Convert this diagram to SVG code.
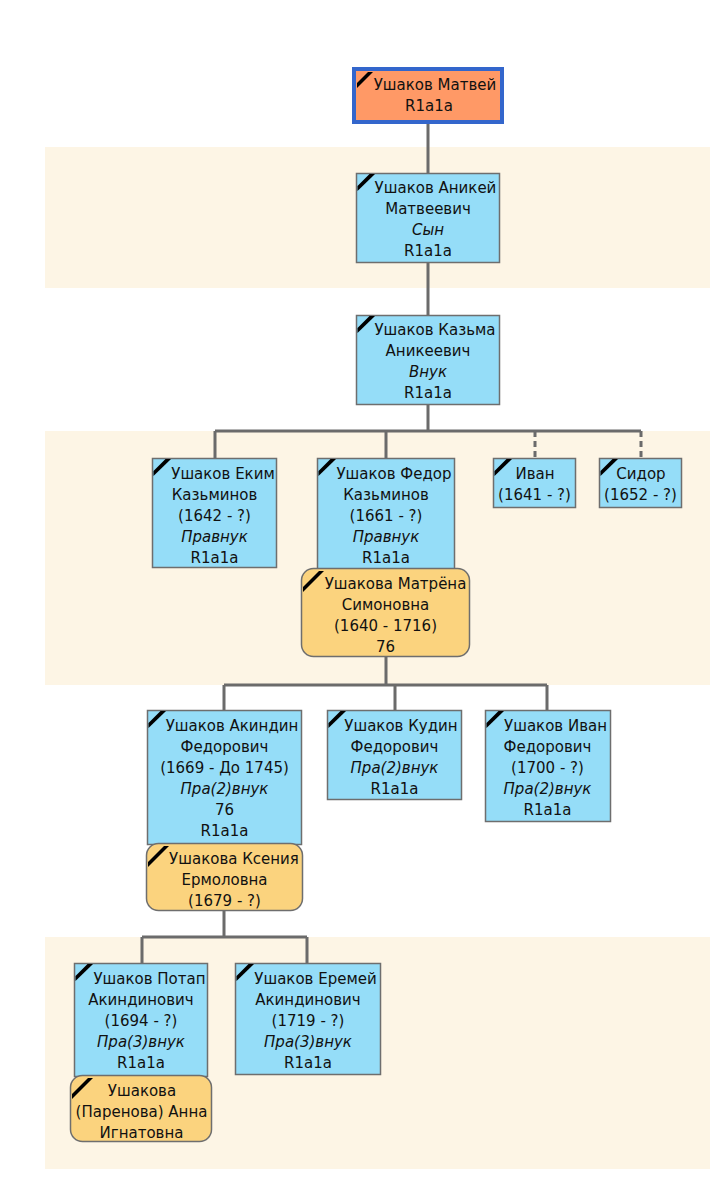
<svg xmlns="http://www.w3.org/2000/svg" width="725" height="1200" viewBox="0 0 725 1200">
<style>
.band{fill:#FDF5E5}
.m{fill:#95DDF8;stroke:#6E6E6E;stroke-width:1.5}
.f{fill:#FBD37E;stroke:#6E6E6E;stroke-width:1.5}
.root{fill:#FF9966;stroke:#3366CC;stroke-width:4}
.mk{fill:#000}
text{font-family:"DejaVu Sans","Noto Sans",sans-serif;font-size:15px;fill:#111;text-anchor:middle}
.i{font-style:italic}
.c{fill:none;stroke:#6B6B6B;stroke-width:3}
.d{stroke-dasharray:6 4}
</style>
<rect width="725" height="1200" fill="#fff"/>
<rect class="band" x="45" y="147" width="665" height="141"/>
<rect class="band" x="45" y="431" width="665" height="254"/>
<rect class="band" x="45" y="937" width="665" height="232"/>
<g id="connectors">
<path class="c" d="M428 124V173M428 263V315M428 405V431M215 431H641M215 431V458M386 431V458"/>
<path class="c d" d="M535 431V458M641 431V458"/>
<path class="c" d="M386 657V685M224 685H547M224 685V710M395 685V710M547 685V710"/>
<path class="c" d="M224 911V937M142 937H307M142 937V963M307 937V963"/>
</g>
<g id="n1">
<rect class="root" x="354" y="69" width="148" height="53"/>
<polygon class="mk" points="357,83 368,72 373,72 357,88"/>
<text x="435" y="90">Ушаков Матвей</text>
<text x="429" y="111">R1a1a</text>
</g>
<g id="n2">
<rect class="m" x="356.5" y="173.5" width="143" height="89"/>
<polygon class="mk" points="357.5,186 369.5,174 375,174 357.5,191"/>
<text x="435.5" y="193">Ушаков Аникей</text>
<text x="428" y="214">Матвеевич</text>
<text class="i" x="428" y="235">Сын</text>
<text x="428" y="256">R1a1a</text>
</g>
<g id="n3">
<rect class="m" x="356.5" y="315.5" width="143" height="89"/>
<polygon class="mk" points="357.5,328 369.5,316 375,316 357.5,333"/>
<text x="435" y="335">Ушаков Казьма</text>
<text x="428" y="356">Аникеевич</text>
<text class="i" x="428" y="377">Внук</text>
<text x="428" y="398">R1a1a</text>
</g>
<g id="n4">
<rect class="m" x="152.5" y="458.5" width="124" height="109"/>
<polygon class="mk" points="153.5,471 165.5,459 171,459 153.5,476"/>
<text x="223" y="479">Ушаков Еким</text>
<text x="214.5" y="500">Казьминов</text>
<text x="214.5" y="521">(1642 - ?)</text>
<text class="i" x="214.5" y="542">Правнук</text>
<text x="214.5" y="563">R1a1a</text>
</g>
<g id="n5">
<rect class="m" x="317.5" y="458.5" width="137" height="112"/>
<polygon class="mk" points="318.5,471 330.5,459 336,459 318.5,476"/>
<text x="394" y="479">Ушаков Федор</text>
<text x="386" y="500">Казьминов</text>
<text x="386" y="521">(1661 - ?)</text>
<text class="i" x="386" y="542">Правнук</text>
<text x="386" y="563">R1a1a</text>
</g>
<g id="n6">
<rect class="f" x="301.5" y="568.5" width="168" height="88" rx="12"/>
<polygon class="mk" points="303,587 319,571 324,571 303,592"/>
<text x="395.5" y="589">Ушакова Матрёна</text>
<text x="385.5" y="610">Симоновна</text>
<text x="385.5" y="631">(1640 - 1716)</text>
<text x="385.5" y="652">76</text>
</g>
<g id="n7">
<rect class="m" x="493.5" y="458.5" width="82" height="49"/>
<polygon class="mk" points="494.5,471 506.5,459 512,459 494.5,476"/>
<text x="535" y="479">Иван</text>
<text x="534.5" y="500">(1641 - ?)</text>
</g>
<g id="n8">
<rect class="m" x="599.5" y="458.5" width="82" height="49"/>
<polygon class="mk" points="600.5,471 612.5,459 618,459 600.5,476"/>
<text x="641" y="479">Сидор</text>
<text x="640.5" y="500">(1652 - ?)</text>
</g>
<g id="n9">
<rect class="m" x="147.5" y="710.5" width="154" height="134"/>
<polygon class="mk" points="148.5,723 160.5,711 166,711 148.5,728"/>
<text x="232" y="731">Ушаков Акиндин</text>
<text x="224.5" y="752">Федорович</text>
<text x="224.5" y="773">(1669 - До 1745)</text>
<text class="i" x="224.5" y="794">Пра(2)внук</text>
<text x="224.5" y="815">76</text>
<text x="224.5" y="836">R1a1a</text>
</g>
<g id="n10">
<rect class="m" x="327.5" y="710.5" width="134" height="89"/>
<polygon class="mk" points="328.5,723 340.5,711 346,711 328.5,728"/>
<text x="401" y="731">Ушаков Кудин</text>
<text x="394.5" y="752">Федорович</text>
<text class="i" x="394.5" y="773">Пра(2)внук</text>
<text x="394.5" y="794">R1a1a</text>
</g>
<g id="n11">
<rect class="m" x="485.5" y="710.5" width="125" height="111"/>
<polygon class="mk" points="486.5,723 498.5,711 504,711 486.5,728"/>
<text x="555.5" y="731">Ушаков Иван</text>
<text x="547.5" y="752">Федорович</text>
<text x="547.5" y="773">(1700 - ?)</text>
<text class="i" x="547.5" y="794">Пра(2)внук</text>
<text x="547.5" y="815">R1a1a</text>
</g>
<g id="n12">
<rect class="f" x="146.5" y="843.5" width="156" height="67" rx="12"/>
<polygon class="mk" points="148,862 164,846 169,846 148,867"/>
<text x="234" y="864">Ушакова Ксения</text>
<text x="224.5" y="885">Ермоловна</text>
<text x="224.5" y="906">(1679 - ?)</text>
</g>
<g id="n13">
<rect class="m" x="74.5" y="963.5" width="133" height="113"/>
<polygon class="mk" points="75.5,976 87.5,964 93,964 75.5,981"/>
<text x="149.5" y="984">Ушаков Потап</text>
<text x="141" y="1005">Акиндинович</text>
<text x="141" y="1026">(1694 - ?)</text>
<text class="i" x="141" y="1047">Пра(3)внук</text>
<text x="141" y="1068">R1a1a</text>
</g>
<g id="n14">
<rect class="m" x="235.5" y="963.5" width="145" height="111"/>
<polygon class="mk" points="236.5,976 248.5,964 254,964 236.5,981"/>
<text x="315.5" y="984">Ушаков Еремей</text>
<text x="308" y="1005">Акиндинович</text>
<text x="308" y="1026">(1719 - ?)</text>
<text class="i" x="308" y="1047">Пра(3)внук</text>
<text x="308" y="1068">R1a1a</text>
</g>
<g id="n15">
<rect class="f" x="70.5" y="1075.5" width="141" height="66" rx="12"/>
<polygon class="mk" points="72,1094 88,1078 93,1078 72,1099"/>
<text x="142" y="1096">Ушакова</text>
<text x="141.5" y="1117">(Паренова) Анна</text>
<text x="141.5" y="1138">Игнатовна</text>
</g>
</svg>
